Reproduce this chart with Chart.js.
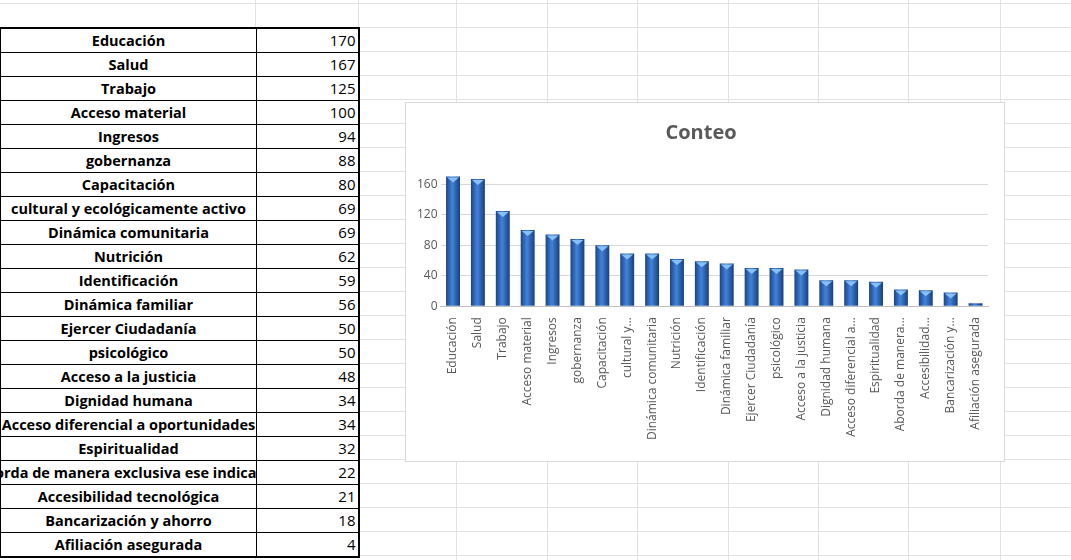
<!DOCTYPE html>
<html><head><meta charset="utf-8">
<script src="https://cdn.jsdelivr.net/npm/chart.js@4"></script>
<style>
body{margin:0;width:1071px;height:560px;overflow:hidden;background:#fff;font-family:"Open Sans",Lato,sans-serif;position:relative;
background-image:linear-gradient(#e1e1e1 1px,transparent 1px);background-size:100% 24px;background-position:0 3px;}
.vl{position:absolute;top:0;height:560px;width:1px;background:#e1e1e1}
table{position:absolute;left:-1px;top:27px;border-collapse:collapse;background:#fff;border:2px solid #000}
td{border:1px solid #000;height:23px;padding:0;font-size:14.5px;line-height:23px}
td.a{width:255px;max-width:255px;font-weight:bold;overflow:hidden}
td.a div{width:255px;display:flex;justify-content:center;white-space:nowrap;overflow:hidden}
td.b{width:102px;text-align:right;padding-right:2px;box-sizing:border-box;border-right:2px solid #000;font-size:15px}
#box{position:absolute;left:405px;top:102px;width:600px;height:360px;background:#fff;border:1px solid #d9d9d9;box-sizing:border-box}
</style></head><body>
<div class="vl" style="left:255px"></div><div class="vl" style="left:358px"></div>
<div class="vl" style="left:456px"></div><div class="vl" style="left:547px"></div><div class="vl" style="left:637px"></div>
<div class="vl" style="left:728px"></div><div class="vl" style="left:818px"></div><div class="vl" style="left:908px"></div><div class="vl" style="left:1000px"></div>
<table id="t"></table>
<div id="box"><canvas id="c" width="598" height="358"></canvas></div>
<script>
const tableLabels=["Educación","Salud","Trabajo","Acceso material","Ingresos","gobernanza","Capacitación","cultural y ecológicamente activo","Dinámica comunitaria","Nutrición","Identificación","Dinámica familiar","Ejercer Ciudadanía","psicológico","Acceso a la justicia","Dignidad humana","Acceso diferencial a oportunidades","Espiritualidad","Aborda de manera exclusiva ese indicador","Accesibilidad tecnológica","Bancarización y ahorro","Afiliación asegurada"];
const chartLabels=["Educación","Salud","Trabajo","Acceso material","Ingresos","gobernanza","Capacitación","cultural y…","Dinámica comunitaria","Nutrición","Identificación","Dinámica familiar","Ejercer Ciudadanía","psicológico","Acceso a la justicia","Dignidad humana","Acceso diferencial a…","Espiritualidad","Aborda de manera…","Accesibilidad…","Bancarización y…","Afiliación asegurada"];
const values=[170,167,125,100,94,88,80,69,69,62,59,56,50,50,48,34,34,32,22,21,18,4];
const t=document.getElementById('t');
tableLabels.forEach((l,i)=>{const r=t.insertRow();const a=r.insertCell();a.className='a';a.innerHTML='<div>'+l+'</div>';const b=r.insertCell();b.className='b';b.textContent=values[i];});
const BP=0.56;
const hl={id:'hl',afterDatasetsDraw(ch){const ctx=ch.ctx;ch.getDatasetMeta(0).data.forEach(b=>{const w=b.width,x=b.x,y=b.y;if(b.base-y<4)return;ctx.fillStyle='rgba(140,195,255,0.95)';ctx.beginPath();ctx.moveTo(x-w/2+1,y+1);ctx.lineTo(x+w/2-1,y+1);ctx.lineTo(x,y+6);ctx.closePath();ctx.fill();});}};
new Chart(document.getElementById('c'),{type:'bar',plugins:[hl],
data:{labels:chartLabels,datasets:[{data:values,borderWidth:0,
backgroundColor:(c)=>{const ch=c.chart;const xs=ch.scales.x;if(!xs||!ch.chartArea)return '#2e63b0';const x=xs.getPixelForValue(c.dataIndex);const w=(xs.width/chartLabels.length)*BP;const g=ch.ctx.createLinearGradient(x-w/2,0,x+w/2,0);g.addColorStop(0,'#1b4585');g.addColorStop(0.45,'#4183dc');g.addColorStop(1,'#18407a');return g;},
barPercentage:BP,categoryPercentage:1}]},
options:{responsive:false,animation:false,layout:{padding:{left:8,right:16,top:6,bottom:18}},
plugins:{legend:{display:false},tooltip:{enabled:false},title:{display:true,text:'Conteo',color:'#595959',font:{family:'Open Sans',size:20,weight:'bold'},padding:{top:12,bottom:24}}},
scales:{y:{min:0,max:180,ticks:{stepSize:20,color:'#595959',font:{family:'Open Sans',size:12}},grid:{color:'#d9d9d9',drawTicks:false},border:{display:false}},
x:{ticks:{minRotation:90,maxRotation:90,autoSkip:false,color:'#595959',font:{family:'Open Sans',size:12}},grid:{display:false},border:{color:'#bfbfbf'}}}}});
</script></body></html>
